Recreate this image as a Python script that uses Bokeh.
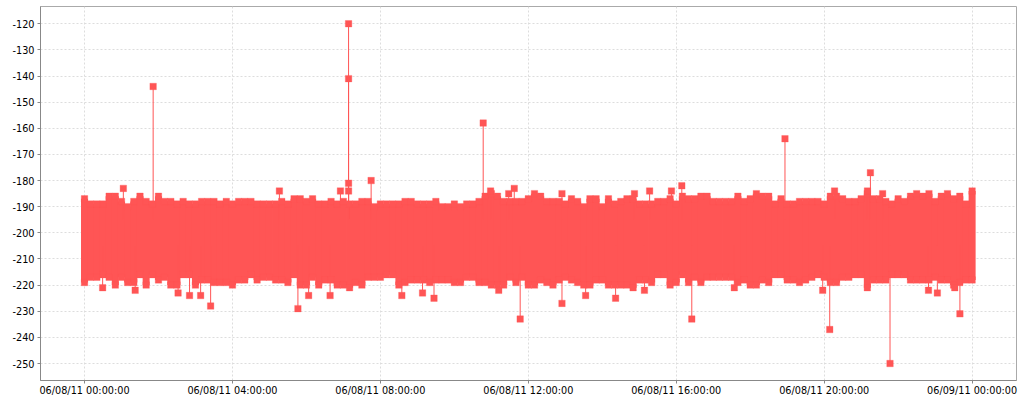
from bokeh.plotting import figure
from bokeh.models import FixedTicker, Range1d
from bokeh.embed import file_html
from bokeh.resources import INLINE

# band sampled every 10 minutes (index 0 = 06/08/11 00:00, index 144 = 06/09/11 00:00)
band_minutes = [10 * i for i in range(145)]
band_top = [-187,-189,-189,-189,-186,-186,-188,-190,-188,-186,-188,-189,-186,-188,-188,-189,-188,-189,-189,-188,
            -188,-188,-189,-188,-189,-188,-188,-188,-189,-189,-189,-189,-188,-189,-187,-187,-188,-187,-189,-189,
            -188,-189,-188,-189,-189,-188,-188,-190,-189,-189,-189,-189,-188,-188,-189,-189,-189,-188,-190,-190,
            -189,-190,-189,-189,-188,-186,-185,-186,-188,-188,-188,-188,-187,-185,-186,-188,-188,-188,-189,-187,
            -188,-190,-187,-187,-190,-187,-189,-188,-187,-187,-189,-189,-189,-188,-188,-187,-189,-186,-187,-187,
            -186,-186,-188,-188,-188,-188,-186,-188,-187,-185,-186,-186,-189,-187,-189,-189,-188,-188,-188,-188,
            -189,-186,-186,-187,-188,-188,-187,-185,-187,-187,-188,-189,-187,-188,-186,-185,-186,-185,-188,-186,
            -185,-187,-186,-189,-184]
band_bottom = [-219,-217,-217,-216,-217,-220,-217,-219,-219,-216,-220,-216,-218,-217,-220,-220,-216,-216,-220,-218,
               -218,-219,-219,-219,-220,-218,-218,-216,-218,-217,-217,-218,-218,-219,-216,-220,-220,-217,-220,-218,
               -218,-220,-220,-221,-219,-220,-217,-217,-217,-216,-216,-220,-219,-218,-218,-218,-219,-218,-218,-218,
               -219,-219,-217,-217,-219,-219,-220,-220,-220,-217,-219,-217,-220,-220,-218,-219,-220,-218,-217,-218,
               -219,-220,-220,-218,-218,-220,-220,-220,-220,-221,-218,-218,-219,-216,-216,-220,-219,-216,-219,-217,
               -219,-217,-217,-217,-217,-217,-219,-218,-220,-220,-218,-219,-216,-216,-218,-218,-219,-218,-217,-216,
               -217,-219,-219,-217,-217,-216,-216,-221,-218,-218,-218,-216,-216,-216,-218,-218,-218,-218,-217,-218,
               -218,-220,-219,-218,-218]

# isolated readings above the band
high_hours = [1.05,1.856,5.27,6.92,7.14,7.14,7.14,7.14,7.75,10.78,10.98,11.47,11.62,12.91,14.87,15.28,15.87,16.15,
              18.94,20.28,21.17,21.25,21.58]
high_values = [-183,-144,-184,-184,-120,-141,-181,-184,-180,-158,-184,-185,-183,-185,-185,-184,-184,-182,
               -164,-184,-184,-177,-185]
# isolated readings below the band
low_hours = [0.49,1.37,2.53,2.84,3.14,3.41,5.77,6.06,6.64,8.58,9.14,9.45,11.2,11.78,12.91,13.55,14.36,15.14,16.42,
             17.57,19.96,20.15,21.78,22.82,23.06,23.53,23.67]
low_values = [-221,-222,-223,-224,-224,-228,-229,-224,-224,-224,-223,-225,-222,-233,-227,-224,-225,-222,-233,
              -221,-222,-237,-250,-222,-223,-221,-231]

x_ticks = [0, 4, 8, 12, 16, 20, 24]
x_labels = ["06/08/11 00:00:00", "06/08/11 04:00:00", "06/08/11 08:00:00", "06/08/11 12:00:00",
            "06/08/11 16:00:00", "06/08/11 20:00:00", "06/09/11 00:00:00"]
y_ticks = [-120, -130, -140, -150, -160, -170, -180, -190, -200, -210, -220, -230, -240, -250]

RED = "#FF5555"
p = figure(width=1024, height=400, output_backend="svg", toolbar_location=None,
           x_range=Range1d(-1.19, 25.2), y_range=Range1d(-256.5, -113.4),
           min_border_left=40, min_border_right=8, min_border_top=6, min_border_bottom=20,
           background_fill_color="white", border_fill_color="white")

band_hours = [m / 60 for m in band_minutes]
p.segment(band_hours, band_top, band_hours, band_bottom, line_color=RED, line_width=7, line_cap="butt")
p.segment(high_hours, high_values, high_hours, [-195] * len(high_hours), line_color=RED, line_width=1)
p.segment(low_hours, low_values, low_hours, [-205] * len(low_hours), line_color=RED, line_width=1)
for xs, ys in ((band_hours, band_top), (band_hours, band_bottom), (high_hours, high_values), (low_hours, low_values)):
    p.scatter(xs, ys, marker="square", size=6.5, fill_color=RED, line_color=RED, line_width=0.5, line_alpha=0.6)

p.xaxis.ticker = FixedTicker(ticks=x_ticks)
p.xaxis.major_label_overrides = dict(zip(x_ticks, x_labels))
p.yaxis.ticker = FixedTicker(ticks=y_ticks)
p.yaxis.major_label_overrides = {v: str(v) for v in y_ticks}

for ax in (p.xaxis[0], p.yaxis[0]):
    ax.axis_line_color = "#888888"
    ax.axis_line_width = 1
    ax.major_tick_line_color = "#888888"
    ax.major_tick_out = 3
    ax.major_tick_in = 0
    ax.minor_tick_line_color = None
    ax.major_label_text_font = "DejaVu Sans"
    ax.major_label_text_font_size = "9.7px"
    ax.major_label_text_color = "#000000"
p.xaxis[0].major_label_standoff = 1
p.yaxis[0].major_label_standoff = 3

for g in (p.xgrid[0], p.ygrid[0]):
    g.grid_line_color = "#dddddd"
    g.grid_line_dash = "2 2"
    g.grid_line_width = 1
p.outline_line_color = "#aaaaaa"
p.outline_line_width = 1

open("out.html", "w").write(file_html(p, INLINE))
